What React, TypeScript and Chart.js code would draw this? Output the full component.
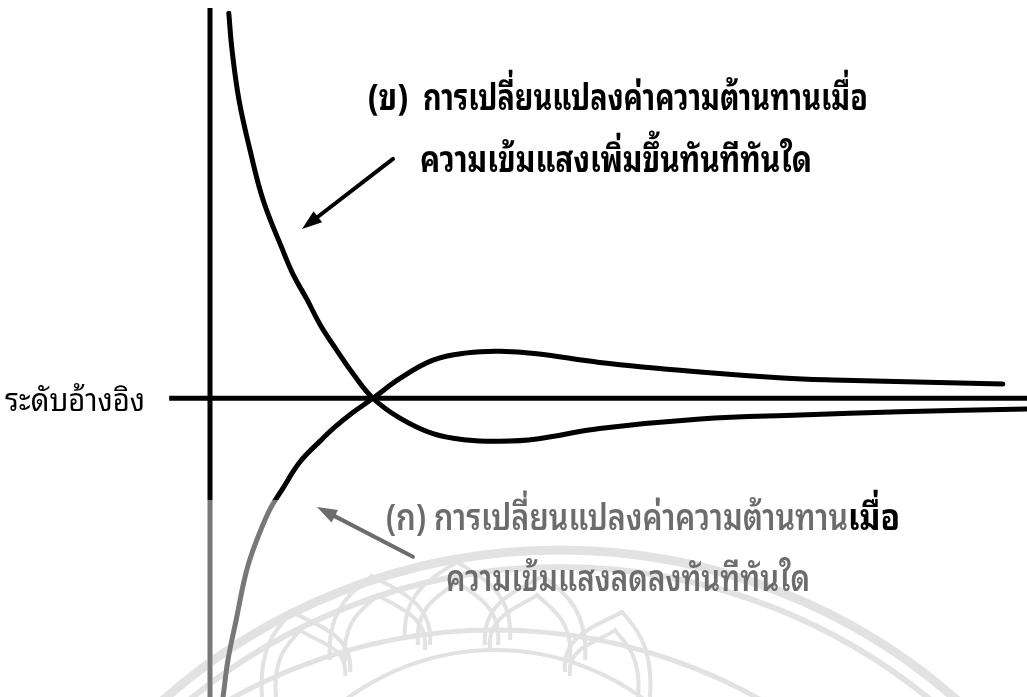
import { useEffect, useRef } from "react";
import { Chart, registerables } from "chart.js";

Chart.register(...registerables);

// Axis extents: time runs from just left of the vertical axis (t = 0) to the right edge,
// resistance level is measured from the reference level (0).
const TIME_MIN = -5;
const TIME_MAX = 100;
const LEVEL_MIN = -75;
const LEVEL_MAX = 100;
const REFERENCE_LEVEL = 0;
const AXIS_TOP = 98;

// (ข) resistance after a sudden increase in light intensity
const riseTime = [2.3, 2.7, 3.55, 4.9, 6.5, 8.9, 10.2, 11.9, 13.5, 15.5, 17.6, 19.95, 23.25, 27.3, 31.45, 35.5, 40.0, 47.7, 60.0, 72.2, 84.4, 100];
const riseLevel = [96.7, 87.4, 74.9, 62.3, 49.8, 37.2, 31.0, 24.7, 18.4, 12.1, 5.9, 0, -5.0, -8.9, -10.5, -10.8, -10.2, -7.6, -5.2, -4.2, -3.4, -2.7];

// (ก) resistance after a sudden decrease in light intensity
const fallTime = [1.6, 2.2, 3.2, 4.4, 5.5, 7.3, 8.8, 11.0, 13.6, 15.3, 17.4, 19.95, 23.25, 27.3, 31.45, 35.5, 40.0, 47.7, 60.0, 70.1, 76.2, 86.5, 97.05];
const fallLevel = [-75, -65.7, -55.7, -43.9, -36.8, -28.0, -23.0, -16.0, -10.5, -7.2, -3.7, 0, 5.0, 9.6, 11.4, 11.8, 11.2, 9.0, 6.6, 5.1, 4.6, 4.1, 3.6];

// Text
const referenceLabel = "ระดับอ้างอิง";
const riseTag = "(ข)";
const riseCaption = ["การเปลี่ยนแปลงค่าความต้านทานเมื่อ", "ความเข้มแสงเพิ่มขึ้นทันทีทันใด"];
const fallTag = "(ก)";
const fallCaption = ["การเปลี่ยนแปลงค่าความต้านทาน", "เมื่อ", "ความเข้มแสงลดลงทันทีทันใด"];

const THAI_FONT = '"Noto Sans Thai Looped", "Noto Serif Thai", "Noto Sans Thai", "Noto Sans", "DejaVu Sans", sans-serif';
const INK = "#000000";
const FADED_INK = "#6c6c6c";
const WATERMARK = "#e2e2e2";

const toPoints = (xs: number[], ys: number[]) => xs.map((x, i) => ({ x, y: ys[i] }));

function fitText(
  ctx: CanvasRenderingContext2D,
  text: string,
  left: number,
  baseline: number,
  width: number,
  font: string,
  color: string
) {
  ctx.save();
  ctx.font = font;
  ctx.textAlign = "left";
  ctx.textBaseline = "alphabetic";
  const w = ctx.measureText(text).width || 1;
  ctx.translate(left, baseline);
  ctx.scale(width / w, 1);
  ctx.fillStyle = color;
  ctx.fillText(text, 0, 0);
  ctx.restore();
}

function arrow(
  ctx: CanvasRenderingContext2D,
  x1: number,
  y1: number,
  x2: number,
  y2: number,
  color: string,
  lineWidth: number
) {
  const ang = Math.atan2(y2 - y1, x2 - x1);
  const headLen = 20;
  const headHalf = 7;
  const bx = x2 - Math.cos(ang) * headLen;
  const by = y2 - Math.sin(ang) * headLen;
  ctx.save();
  ctx.strokeStyle = color;
  ctx.fillStyle = color;
  ctx.lineWidth = lineWidth;
  ctx.lineCap = "round";
  ctx.beginPath();
  ctx.moveTo(x1, y1);
  ctx.lineTo(bx + Math.cos(ang) * 4, by + Math.sin(ang) * 4);
  ctx.stroke();
  ctx.beginPath();
  ctx.moveTo(x2, y2);
  ctx.lineTo(bx - Math.sin(ang) * headHalf, by + Math.cos(ang) * headHalf);
  ctx.lineTo(bx + Math.sin(ang) * headHalf, by - Math.cos(ang) * headHalf);
  ctx.closePath();
  ctx.fill();
  ctx.restore();
}

// pointed lotus petal of the emblem
function petal(ctx: CanvasRenderingContext2D, left: number, right: number, baseL: number, baseR: number, peakX: number, peakY: number) {
  ctx.beginPath();
  ctx.moveTo(left, baseL);
  ctx.bezierCurveTo(left - 4, peakY + (baseL - peakY) * 0.35, peakX - (peakX - left) * 0.35, peakY + 12, peakX, peakY);
  ctx.bezierCurveTo(peakX + (right - peakX) * 0.35, peakY + 12, right + 4, peakY + (baseR - peakY) * 0.35, right, baseR);
  ctx.stroke();
}

const annotationPlugin = {
  id: "annotations",
  afterDraw(chart: Chart) {
    const { ctx } = chart;
    const xs = chart.scales.x;
    const ys = chart.scales.y;
    const px = (t: number) => xs.getPixelForValue(t);
    const py = (v: number) => ys.getPixelForValue(v);

    // faded lower part of the page
    ctx.save();
    ctx.fillStyle = "rgba(255,255,255,0.47)";
    ctx.fillRect(0, 500, 842, 697 - 500);
    ctx.restore();

    // emblem watermark
    ctx.save();
    ctx.globalCompositeOperation = "darken";
    ctx.strokeStyle = WATERMARK;
    ctx.lineWidth = 9;
    ctx.beginPath();
    ctx.arc(560, 1150, 600, Math.PI, 2 * Math.PI);
    ctx.stroke();
    ctx.lineWidth = 6;
    ctx.beginPath();
    ctx.arc(560, 1150, 583, Math.PI, 2 * Math.PI);
    ctx.stroke();
    ctx.lineWidth = 5;
    ctx.beginPath();
    ctx.arc(495, 1170, 540, Math.PI, 2 * Math.PI);
    ctx.stroke();
    ctx.lineWidth = 4;
    // outer row of petals
    petal(ctx, 262, 350, 697, 672, 292, 612);
    petal(ctx, 330, 430, 660, 645, 372, 576);
    petal(ctx, 405, 510, 640, 640, 457, 562);
    petal(ctx, 485, 585, 645, 660, 543, 576);
    petal(ctx, 565, 650, 672, 697, 622, 612);
    // inner outlines
    petal(ctx, 276, 345, 697, 676, 300, 630);
    petal(ctx, 345, 425, 662, 650, 378, 595);
    petal(ctx, 418, 498, 645, 645, 457, 582);
    petal(ctx, 490, 570, 650, 662, 537, 595);
    petal(ctx, 570, 638, 676, 697, 615, 630);
    // lower ring
    ctx.beginPath();
    ctx.arc(495, 900, 250, 1.12 * Math.PI, 1.88 * Math.PI);
    ctx.stroke();
    ctx.restore();

    // arrows
    arrow(ctx, px(22.4), py(60.1), px(11.26), py(42.5), INK, 4);
    arrow(ctx, px(24.84), py(-39.8), px(13.1), py(-27.3), FADED_INK, 4);

    // captions
    const bold = `bold 36px ${THAI_FONT}`;
    const medium = `600 36px ${THAI_FONT}`;
    fitText(ctx, riseTag, 368, 110, 40, bold, INK);
    fitText(ctx, riseCaption[0], 423, 110, 445, bold, INK);
    fitText(ctx, riseCaption[1], 420, 172, 392, bold, INK);

    fitText(ctx, fallTag, 386, 530, 40, medium, FADED_INK);
    fitText(ctx, fallCaption[0], 434, 530, 414, medium, FADED_INK);
    fitText(ctx, fallCaption[1], 848, 530, 52, bold, INK);
    fitText(ctx, fallCaption[2], 446, 591, 364, medium, FADED_INK);

    fitText(ctx, referenceLabel, 5, 411, 140, `32px ${THAI_FONT}`, INK);
  },
};

export default function App() {
  const canvasRef = useRef<HTMLCanvasElement | null>(null);

  useEffect(() => {
    const canvas = canvasRef.current;
    if (!canvas) return;
    const lineStyle = {
      borderColor: INK,
      borderWidth: 5,
      pointRadius: 0,
      borderCapStyle: "round" as const,
      fill: false,
      clip: false as const,
    };
    const chart = new Chart(canvas, {
      type: "line",
      data: {
        datasets: [
          {
            label: "reference",
            data: [
              { x: TIME_MIN, y: REFERENCE_LEVEL },
              { x: TIME_MAX, y: REFERENCE_LEVEL },
            ],
            ...lineStyle,
            borderCapStyle: "butt",
          },
          {
            label: "axis",
            data: [
              { x: 0, y: LEVEL_MIN },
              { x: 0, y: AXIS_TOP },
            ],
            ...lineStyle,
            borderCapStyle: "butt",
          },
          {
            label: "(ข)",
            data: toPoints(riseTime, riseLevel),
            ...lineStyle,
            tension: 0.4,
          },
          {
            label: "(ก)",
            data: toPoints(fallTime, fallLevel),
            ...lineStyle,
            tension: 0.4,
          },
        ],
      },
      options: {
        animation: false,
        responsive: false,
        maintainAspectRatio: false,
        layout: { padding: { left: 169.15, right: 0, top: 0, bottom: 0 } },
        plugins: {
          legend: { display: false },
          tooltip: { enabled: false },
          title: { display: false },
        },
        scales: {
          x: { type: "linear", min: TIME_MIN, max: TIME_MAX, display: false },
          y: { type: "linear", min: LEVEL_MIN, max: LEVEL_MAX, display: false },
        },
      },
      plugins: [annotationPlugin],
    });
    return () => chart.destroy();
  }, []);

  return (
    <canvas
      ref={canvasRef}
      width={1027}
      height={697}
      style={{ position: "absolute", left: 0, top: 0, width: 1027, height: 697, display: "block", background: "#ffffff" }}
    />
  );
}
